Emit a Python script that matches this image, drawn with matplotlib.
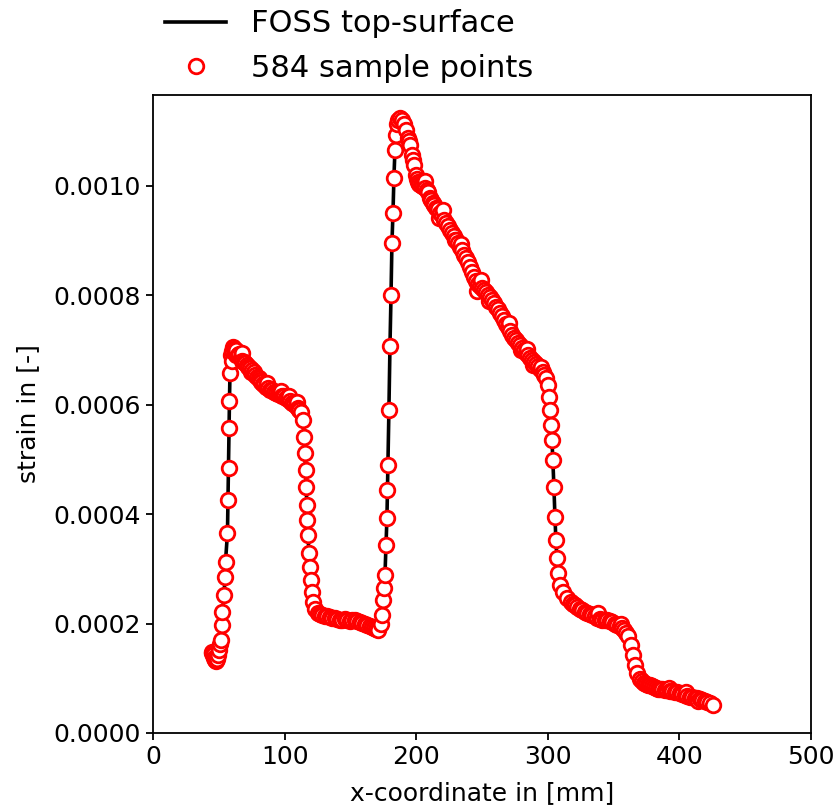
import matplotlib
matplotlib.use("Agg")
import numpy as np
import matplotlib.pyplot as plt
from matplotlib.ticker import FormatStrFormatter

# fibre position along the beam [mm]
x_mm = [
    44.5, 45.2, 45.9, 46.6, 47.3, 48.0, 48.7, 49.4, 50.1, 50.8,
    51.7, 52.4, 52.8, 54.0, 54.7, 55.1, 56.6, 57.0, 57.4, 57.8, 58.1, 58.5, 59.3, 59.8,
    60.3, 60.8, 61.5, 62.2, 63.1, 64.6, 66.9, 69.1, 71.4, 73.7, 76.7, 79.0, 81.3, 83.6,
    85.9, 88.9, 91.9, 95.0, 98.0, 101.1, 104.1, 107.1, 110.2, 112.5,
    114.0, 114.7, 115.5, 115.9, 116.3, 117.0, 117.4, 117.8, 118.5, 119.3, 120.1, 120.8,
    121.6, 123.1, 125.4,
    126.9, 130.7, 134.5, 138.3, 142.1, 145.9, 149.7, 153.5, 157.3, 161.1, 164.9, 167.9,
    171.0, 173.3,
    174.0, 174.8, 175.5, 176.3, 177.1, 177.8, 178.2, 178.6, 179.3, 180.1, 180.9, 181.6,
    182.4, 183.1, 183.9, 184.7, 185.4,
    186.2, 187.7, 189.2, 190.7, 192.2, 193.8, 195.3, 196.8, 198.3, 199.8, 201.4, 203.6,
    205.9, 208.2, 210.5, 212.8, 215.0, 218.1, 221.1, 224.2, 227.2, 230.2, 233.3, 236.3,
    239.4, 242.4, 245.4, 248.5, 251.5, 254.6, 257.6, 260.6, 263.7, 266.7, 269.8, 272.8,
    275.8, 278.9, 281.9, 285.0, 288.0, 291.0, 294.1, 296.4, 298.6, 300.2,
    300.9, 301.7, 302.4, 303.2, 303.9, 304.7, 305.5, 306.2, 307.0, 307.8, 309.3, 311.6,
    314.6,
    317.6, 320.7, 324.5, 328.3, 332.1, 335.9, 339.7, 343.5, 347.3, 351.1, 354.9, 357.9,
    361.0, 363.2, 364.7, 366.3, 367.8, 370.1, 373.1, 376.2, 379.2, 382.2, 385.3, 389.1,
    392.9, 396.7, 400.5, 404.3, 408.1, 411.9, 415.7, 419.5, 423.3, 425.5,
    # in-between readings on the flatter stretches
    62.7, 65.5, 68.0, 70.2, 72.5, 75.0, 77.8, 80.2, 82.4, 84.7, 87.4, 90.4, 93.4,
    96.5, 99.5, 102.6, 105.6, 108.6, 111.3,
    128.8, 132.6, 136.4, 140.2, 144.0, 147.8, 151.6, 155.4, 159.2, 163.0, 166.4, 169.5,
    194.5, 197.5, 200.6, 202.5, 204.7, 207.0, 209.3, 211.6, 213.9, 216.5, 219.6, 222.6,
    225.7, 228.7, 231.7, 234.8, 237.8, 240.9, 243.9, 247.0, 250.0, 253.0, 256.1, 259.1,
    262.2, 265.2, 268.2, 271.3, 274.3, 277.4, 280.4, 283.5, 286.5, 289.5, 292.5, 297.5,
    319.2, 322.6, 326.4, 330.2, 334.0, 337.8, 341.6, 345.4, 349.2, 353.0, 356.4, 359.5,
    371.6, 374.7, 377.7, 380.7, 383.8, 387.2, 391.0, 394.8, 398.6, 402.4, 406.2, 410.0,
    413.8, 417.6, 421.4,
    # scattered readings that widen the band
    67.6, 74.3, 86.6, 97.2, 103.3, 109.4,
    206.8, 217.3, 220.5, 229.4, 233.9, 246.2, 249.2, 255.5, 270.5, 279.5, 284.2, 288.8,
    295.2, 338.5, 355.7, 392.0, 405.0, 414.0,
]

# measured strain [micro-strain]
strain_ue = [
    148, 146, 142, 137, 133, 132, 135, 142, 152, 163,
    170, 197, 221, 252, 285, 313, 366, 426, 484, 558, 607, 658, 691, 680,
    698, 706, 702, 695, 700, 691, 686, 678, 673, 667, 660, 651, 645, 638,
    633, 627, 623, 620, 616, 612, 607, 601, 594, 587,
    572, 541, 512, 481, 450, 417, 389, 362, 329, 303, 280, 258,
    240, 227, 219,
    218, 214, 212, 210, 207, 208, 205, 207, 203, 199, 196, 192,
    188, 199,
    216, 243, 265, 289, 344, 393, 444, 490, 591, 707, 801, 896,
    951, 1015, 1066, 1093, 1112,
    1121, 1124, 1121, 1112, 1102, 1088, 1075, 1057, 1038, 1020, 1007, 1002,
    998, 993, 978, 969, 960, 951, 938, 927, 914, 901, 889, 874,
    861, 843, 826, 817, 810, 801, 792, 779, 768, 755, 742, 728,
    718, 709, 700, 691, 682, 675, 665, 660, 649, 636,
    614, 591, 563, 536, 499, 450, 395, 353, 320, 293, 271, 258,
    247,
    239, 234, 227, 221, 218, 214, 208, 207, 205, 199, 196, 188,
    177, 161, 143, 124, 110, 99, 91, 88, 86, 82, 80, 79,
    77, 75, 73, 69, 66, 64, 62, 59, 55, 51,
    690, 693, 680, 676, 668, 664, 655, 649, 641, 637, 631, 626, 622,
    619, 615, 610, 603, 598, 590,
    216, 213, 211, 209, 206, 207, 206, 204, 201, 198, 194, 190,
    1082, 1048, 1012, 1004, 1000, 996, 988, 974, 965, 957, 946, 932,
    920, 908, 895, 882, 868, 852, 834, 820, 813, 806, 797, 786,
    774, 762, 748, 735, 722, 713, 704, 695, 686, 678, 670, 655,
    236, 230, 224, 219, 216, 211, 207, 206, 202, 197, 192, 183,
    95, 89, 87, 84, 81, 80, 78, 76, 74, 71, 67, 65,
    63, 60, 57,
    695, 660, 640, 625, 615, 604,
    1008, 942, 955, 900, 893, 808, 828, 790, 750, 700, 702, 672,
    668, 219, 200, 82, 75, 58,
]

order = np.argsort(x_mm, kind="stable")
x = np.array(x_mm)[order]
strain = np.array(strain_ue)[order] * 1e-6

plt.rcParams["font.family"] = ["DejaVu Sans"]

fig = plt.figure(figsize=(8.38, 8.10), dpi=100)
ax = fig.add_axes([0.1826, 0.0951, 0.785, 0.7877])

ax.plot(x, strain, color="black", lw=2.6, label="FOSS top-surface", zorder=2)
ax.plot(x, strain, ls="none", marker="o", ms=10.5, mew=2.0, mec="red", mfc="white",
        label="584 sample points", zorder=3)

ax.set_xlim(0, 500)
ax.set_ylim(0, 0.001166)
ax.set_xticks([0, 100, 200, 300, 400, 500])
ax.set_yticks([0, 0.0002, 0.0004, 0.0006, 0.0008, 0.0010])
ax.yaxis.set_major_formatter(FormatStrFormatter("%.4f"))
ax.tick_params(labelsize=18, length=5, width=1.3)
for s in ax.spines.values():
    s.set_linewidth(1.3)

ax.set_xlabel("x-coordinate in [mm]", fontsize=18, labelpad=9)
ax.set_ylabel("strain in [-]", fontsize=18, labelpad=10)

ax.legend(loc="lower left", bbox_to_anchor=(0, 1), frameon=False,
          borderaxespad=0, fontsize=22)

fig.savefig("out.png", dpi=100)
